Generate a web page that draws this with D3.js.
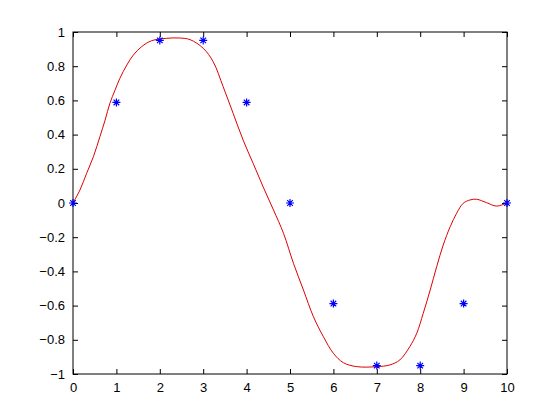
<!DOCTYPE html>
<html>
<head>
<meta charset="utf-8">
<script src="https://cdn.jsdelivr.net/npm/d3@7"></script>
<style>
  body { margin: 0; background: #fff; }
  svg { display: block; }
  .tick text { font-family: "Liberation Sans", Arial, sans-serif; font-size: 13px; fill: #000; }
</style>
</head>
<body>
<div id="chart"></div>
<script>
// sample points (blue stars)
var sampleX = [0, 1, 2, 3, 4, 5, 6, 7, 8, 9, 10];
var sampleY = [0, 0.588, 0.951, 0.951, 0.588, 0, -0.588, -0.951, -0.951, -0.588, 0];

// fitted curve (red)
var curveX = [0, 0.16, 0.315, 0.47, 0.62, 0.74, 0.85, 0.97, 1.08, 1.24, 1.39, 1.58, 1.81, 2.16, 2.45, 2.70,
              3.0, 3.23, 3.46, 3.69, 3.92, 4.15, 4.38, 4.62, 4.85, 5.08, 5.31, 5.54, 5.77, 6.0, 6.23, 6.54,
              7.0, 7.30, 7.53, 7.76, 7.92, 8.07, 8.23, 8.38, 8.53, 8.69, 8.84, 8.99, 9.15, 9.30, 9.53, 9.76, 10];
var curveY = [0, 0.076, 0.174, 0.271, 0.388, 0.485, 0.583, 0.661, 0.729, 0.807, 0.865, 0.914, 0.949, 0.963, 0.965, 0.955,
              0.905, 0.826, 0.68, 0.524, 0.368, 0.232, 0.095, -0.041, -0.177, -0.353, -0.509, -0.665, -0.782, -0.879, -0.934, -0.957,
              -0.957, -0.947, -0.918, -0.84, -0.762, -0.645, -0.509, -0.372, -0.246, -0.139, -0.060, -0.002, 0.018, 0.022, 0.002, -0.018, 0];

var xTicks = [0, 1, 2, 3, 4, 5, 6, 7, 8, 9, 10];
var yTicks = [-1, -0.8, -0.6, -0.4, -0.2, 0, 0.2, 0.4, 0.6, 0.8, 1];

var W = 560, H = 420;
var margin = {top: 32, right: 53, bottom: 46, left: 73};
var width = W - margin.left - margin.right,
    height = H - margin.top - margin.bottom;

var svg = d3.select("#chart").append("svg")
    .attr("width", W)
    .attr("height", H);

var g = svg.append("g")
    .attr("transform", "translate(" + margin.left + "," + margin.top + ")");

var x = d3.scaleLinear().domain([0, 10]).range([0, width]);
var y = d3.scaleLinear().domain([-1, 1]).range([height, 0]);

var tickLen = 5;

// axes, ticks inward like matlab
g.append("g")
    .attr("transform", "translate(0," + height + ")")
    .call(d3.axisBottom(x).tickValues(xTicks).tickSizeInner(-tickLen).tickSizeOuter(0).tickPadding(9).tickFormat(d3.format("d")));
g.append("g")
    .call(d3.axisTop(x).tickValues(xTicks).tickSizeInner(-tickLen).tickSizeOuter(0).tickFormat(""));
g.append("g")
    .call(d3.axisLeft(y).tickValues(yTicks).tickSizeInner(-tickLen).tickSizeOuter(0).tickPadding(8)
      .tickFormat(function(d) { return d3.format("")(Math.round(d * 10) / 10); }));
g.append("g")
    .attr("transform", "translate(" + width + ",0)")
    .call(d3.axisRight(y).tickValues(yTicks).tickSizeInner(-tickLen).tickSizeOuter(0).tickFormat(""));

g.selectAll(".domain").remove();
g.selectAll(".tick line").attr("stroke", "#000");

g.append("rect")
    .attr("width", width)
    .attr("height", height)
    .attr("fill", "none")
    .attr("stroke", "#000")
    .attr("stroke-width", 1);

// red curve
var curveData = curveX.map(function(d, i) { return [d, curveY[i]]; });
var line = d3.line()
    .x(function(d) { return x(d[0]); })
    .y(function(d) { return y(d[1]); })
    .curve(d3.curveCatmullRom.alpha(0.5));

g.append("path")
    .datum(curveData)
    .attr("fill", "none")
    .attr("stroke", "#e00000")
    .attr("stroke-width", 1)
    .attr("d", line);

// blue asterisk markers
var s = 4;
var stars = g.selectAll(".star")
    .data(sampleX.map(function(d, i) { return [d, sampleY[i]]; }))
  .enter().append("path")
    .attr("class", "star")
    .attr("transform", function(d) { return "translate(" + x(d[0]) + "," + y(d[1]) + ")"; })
    .attr("fill", "none")
    .attr("stroke", "#0000ff")
    .attr("stroke-width", 1.2)
    .attr("d", "M" + (-s) + ",0H" + s + "M0," + (-s) + "V" + s +
               "M" + (-s * 0.7) + "," + (-s * 0.7) + "L" + (s * 0.7) + "," + (s * 0.7) +
               "M" + (-s * 0.7) + "," + (s * 0.7) + "L" + (s * 0.7) + "," + (-s * 0.7));
</script>
</body>
</html>
